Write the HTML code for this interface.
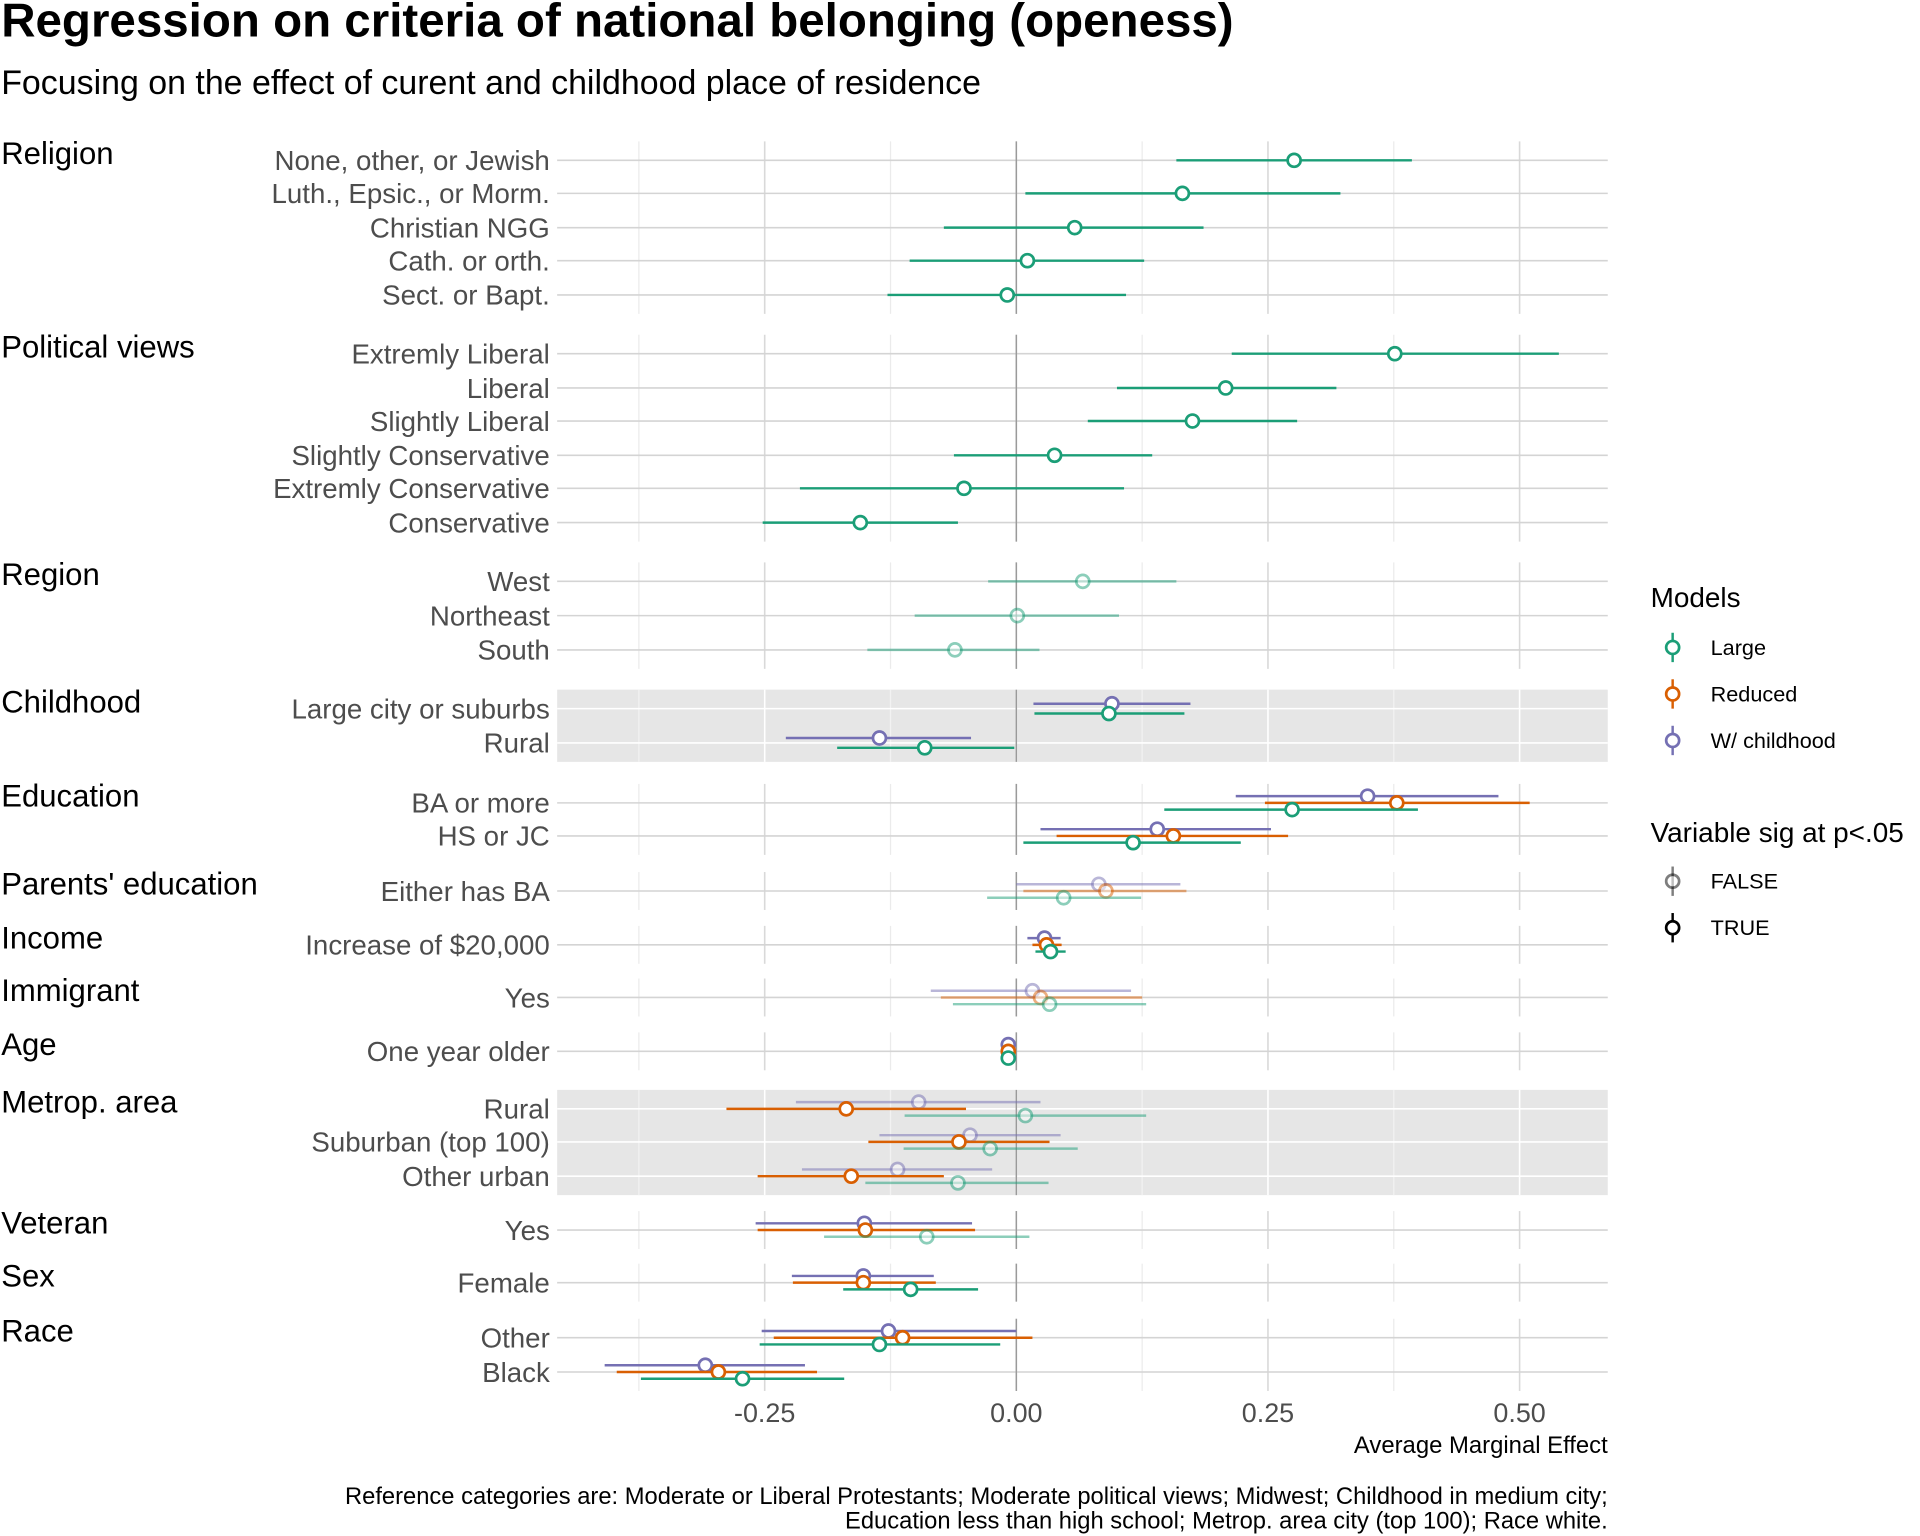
<!DOCTYPE html>
<html><head><meta charset="utf-8"><style>
html,body{margin:0;padding:0;background:#fff;}
svg{display:block;font-family:"Liberation Sans",Arial,sans-serif;}
</style></head><body>
<svg id="chart" width="1920" height="1536" viewBox="0 0 1568 1255" preserveAspectRatio="none" xmlns="http://www.w3.org/2000/svg">
<text x="1" y="30" font-size="38.8" font-weight="bold" fill="#000">Regression on criteria of national belonging (openess)</text>
<text x="1" y="77" font-size="27.7" fill="#000">Focusing on the effect of curent and childhood place of residence</text>
<g id="plot"></g>
<g id="legend">
<text x="1348" y="496" font-size="22.8" fill="#000">Models</text>
<text x="1348" y="688" font-size="22.8" fill="#000">Variable sig at p&lt;.05</text>
</g>
<text x="1313" y="1187" font-size="19.5" text-anchor="end" fill="#000">Average Marginal Effect</text>
<text x="1313" y="1229" font-size="19.4" text-anchor="end" fill="#000">Reference categories are: Moderate or Liberal Protestants; Moderate political views; Midwest; Childhood in medium city;</text>
<text x="1313" y="1249" font-size="19.4" text-anchor="end" fill="#000">Education less than high school; Metrop. area city (top 100); Race white.</text>
</svg>
<script>
const facets = ["Religion","Political views","Region","Childhood","Education","Parents' education","Income","Immigrant","Age","Metrop. area","Veteran","Sex","Race"];
const rowLabels = ["None, other, or Jewish","Luth., Epsic., or Morm.","Christian NGG","Cath. or orth.","Sect. or Bapt.",
"Extremly Liberal","Liberal","Slightly Liberal","Slightly Conservative","Extremly Conservative","Conservative",
"West","Northeast","South","Large city or suburbs","Rural","BA or more","HS or JC","Either has BA","Increase of $20,000","Yes","One year older",
"Rural","Suburban (top 100)","Other urban","Yes","Female","Other","Black"];
const rowFacet = [0,0,0,0,0,1,1,1,1,1,1,2,2,2,3,3,4,4,5,6,7,8,9,9,9,10,11,12,12];
// Large model
const largeEst = [0.276,0.165,0.058,0.011,-0.009,0.376,0.208,0.175,0.038,-0.052,-0.155,0.066,0.001,-0.061,0.092,-0.091,0.274,0.116,0.047,0.034,0.033,-0.008,0.009,-0.026,-0.058,-0.089,-0.105,-0.136,-0.272];
const largeLo = [0.159,0.009,-0.072,-0.106,-0.128,0.214,0.100,0.071,-0.062,-0.215,-0.252,-0.028,-0.101,-0.148,0.018,-0.178,0.147,0.007,-0.029,0.019,-0.063,-0.011,-0.111,-0.112,-0.150,-0.191,-0.172,-0.255,-0.373];
const largeHi = [0.393,0.322,0.186,0.127,0.109,0.539,0.318,0.279,0.135,0.107,-0.058,0.159,0.102,0.023,0.167,-0.002,0.399,0.223,0.124,0.049,0.129,-0.005,0.129,0.061,0.032,0.013,-0.038,-0.016,-0.171];
const largeSig = [1,1,1,1,1,1,1,1,1,1,1,0,0,0,1,1,1,1,0,1,0,1,0,0,0,0,1,1,1];
// Reduced model
const reducedEst = [null,null,null,null,null,null,null,null,null,null,null,null,null,null,null,null,0.378,0.156,0.089,0.030,0.024,-0.008,-0.169,-0.057,-0.164,-0.150,-0.152,-0.113,-0.296];
const reducedLo = [null,null,null,null,null,null,null,null,null,null,null,null,null,null,null,null,0.247,0.040,0.007,0.016,-0.075,-0.011,-0.288,-0.147,-0.257,-0.257,-0.222,-0.241,-0.397];
const reducedHi = [null,null,null,null,null,null,null,null,null,null,null,null,null,null,null,null,0.510,0.270,0.169,0.045,0.125,-0.005,-0.050,0.033,-0.072,-0.041,-0.080,0.016,-0.198];
const reducedSig = [0,0,0,0,0,0,0,0,0,0,0,0,0,0,0,0,1,1,0,1,0,1,1,1,1,1,1,1,1];
// W/ childhood model
const childEst = [null,null,null,null,null,null,null,null,null,null,null,null,null,null,0.095,-0.136,0.349,0.140,0.082,0.028,0.016,-0.008,-0.097,-0.046,-0.118,-0.151,-0.152,-0.127,-0.309];
const childLo = [null,null,null,null,null,null,null,null,null,null,null,null,null,null,0.017,-0.229,0.218,0.024,0.000,0.011,-0.085,-0.011,-0.219,-0.136,-0.213,-0.259,-0.223,-0.253,-0.409];
const childHi = [null,null,null,null,null,null,null,null,null,null,null,null,null,null,0.173,-0.045,0.479,0.253,0.163,0.044,0.114,-0.005,0.024,0.044,-0.024,-0.044,-0.082,0.000,-0.210];
const childSig = [0,0,0,0,0,0,0,0,0,0,0,0,0,0,1,1,1,1,0,1,0,1,0,0,0,1,1,1,1];
const xTicks = [-0.25,0,0.25,0.5];
const xTickLabels = ["-0.25","0.00","0.25","0.50"];
const xMinor = [-0.375,-0.125,0.125,0.375];

const NS="http://www.w3.org/2000/svg";
const plot=document.getElementById('plot');
const X0=830, XS=822, PL=455, PR=1313;
const xs=v=>X0+v*XS;
const rowY=[131,158,186,213,241,289,317,344,372,399,427,475,503,531,579,607,656,683,728,772,815,859,906,933,961,1005,1048,1093,1121];
const panelGrey=[3,9];
function mk(tag,attrs,parent){const e=document.createElementNS(NS,tag);for(const k in attrs)e.setAttribute(k,attrs[k]);(parent||plot).appendChild(e);return e;}
const models=[
 {name:'w-childhood',c:'#7570b3',est:childEst,lo:childLo,hi:childHi,sig:childSig},
 {name:'reduced',c:'#d95f02',est:reducedEst,lo:reducedLo,hi:reducedHi,sig:reducedSig},
 {name:'large',c:'#1b9e77',est:largeEst,lo:largeLo,hi:largeHi,sig:largeSig}];
facets.forEach((f,fi)=>{
  const idx=rowFacet.map((r,i)=>r===fi?i:-1).filter(i=>i>=0);
  const top=rowY[idx[0]]-15.5, bot=rowY[idx[idx.length-1]]+15.5;
  const g=mk('g',{});
  
  
  mk('rect',{x:PL,y:top,width:PR-PL,height:bot-top,fill:panelGrey.includes(fi)?'#e6e6e6':'#fff'},g);
  xMinor.forEach(v=>mk('line',{x1:xs(v),x2:xs(v),y1:top,y2:bot,stroke:panelGrey.includes(fi)?'#f2f2f2':'#ebebeb','stroke-width':1},g));
  xTicks.forEach(v=>mk('line',{x1:xs(v),x2:xs(v),y1:top,y2:bot,stroke:panelGrey.includes(fi)?'#ffffff':'#d9d9d9','stroke-width':1.3},g));
  idx.forEach(i=>mk('line',{x1:PL,x2:PR,y1:rowY[i],y2:rowY[i],stroke:panelGrey.includes(fi)?'#fff':'#d4d4d4','stroke-width':1.3},g));
  mk('line',{x1:xs(0),x2:xs(0),y1:top,y2:bot,stroke:'#9a9a9a','stroke-width':1.2},g);
  const ft=mk('text',{x:1,y:rowY[idx[0]]+3,'font-size':25.4,fill:'#000'},g);
  ft.textContent=f;
  
  
  idx.forEach(i=>{
    const t=mk('text',{x:449,y:rowY[i]+8,'font-size':22.6,'text-anchor':'end',fill:'#4d4d4d'},g);
    t.textContent=rowLabels[i];
    
    
    const present=models.filter(m=>m.est[i]!==null);
    const n=present.length;
    const offs=n===3?[-5.5,0,5.5]:n===2?[-4,4]:[0];
    present.forEach((m,k)=>{
      const y=rowY[i]+offs[k];
      const op=m.sig[i]?1:0.5;
      const ln=mk('line',{x1:xs(m.lo[i]),x2:xs(m.hi[i]),y1:y,y2:y,stroke:m.c,'stroke-width':2,opacity:op},g);
      
      
      const c=mk('circle',{cx:xs(m.est[i]),cy:y,r:5.3,fill:'#fff',stroke:m.c,'stroke-width':2.2,opacity:op},g);
      
      
    });
  });
});
xTicks.forEach((v,i)=>{
  const t=mk('text',{x:xs(v),y:1162,'font-size':22,'text-anchor':'middle',fill:'#4d4d4d'});
  t.textContent=xTickLabels[i];
  
  
});
const leg=document.getElementById('legend');
const legItems=[['Large','#1b9e77',529,1],['Reduced','#d95f02',567,1],['W/ childhood','#7570b3',605,1],['FALSE','#000',720,0.5],['TRUE','#000',758,1]];
legItems.forEach(([lab,c,y,op])=>{
  const g=mk('g',{},leg);
  
  
  mk('line',{x1:1366,x2:1366,y1:y-12,y2:y+12,stroke:c,'stroke-width':2,opacity:op},g);
  mk('circle',{cx:1366,cy:y,r:5.3,fill:'#fff',stroke:c,'stroke-width':2.2,opacity:op},g);
  const t=mk('text',{x:1397,y:y+6,'font-size':17.7,fill:'#000'},g);
  t.textContent=lab;
});
</script>
</body></html>
